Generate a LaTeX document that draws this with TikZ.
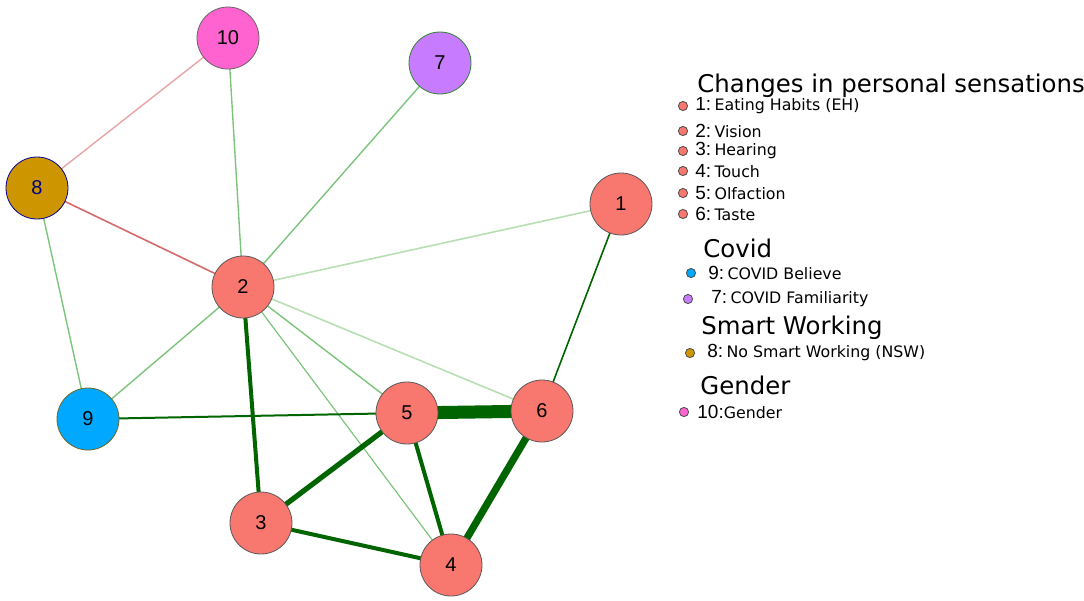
\documentclass[tikz,border=0pt]{standalone}
\usepackage{fontspec}
\setmainfont{Liberation Sans}
\newfontfamily\legfont{DejaVu Sans}
\usetikzlibrary{backgrounds}

\definecolor{sens}{HTML}{F8776E}
\definecolor{gender}{HTML}{FF63CF}
\definecolor{famil}{HTML}{C77CFF}
\definecolor{nsw}{HTML}{CD9600}
\definecolor{believe}{HTML}{00A9FF}
\definecolor{strong}{HTML}{006400}
\definecolor{medium}{HTML}{7CC47C}
\definecolor{faint}{HTML}{B8DEB3}
\definecolor{negative}{HTML}{D46A6A}
\definecolor{negfaint}{HTML}{E8A3A3}
\def\numfont{\fontsize{9.5}{11}\selectfont}
\def\txtfont{\legfont\fontsize{7.9}{10}\selectfont}
\tikzset{var/.style={circle, draw=black!65, fill=sens, minimum size=31pt,
        inner sep=0pt, font=\fontsize{10}{12}\selectfont},
    key/.style={circle, draw=black!70, fill=sens, inner sep=0pt, minimum size=4.6pt},
    head/.style={anchor=west, inner sep=0pt, font=\legfont\fontsize{12.2}{14}\selectfont},
    entry/.style={anchor=west, inner sep=0pt}}

\begin{document}
\begin{tikzpicture}[x=0.5pt, y=-0.5pt]
  \useasboundingbox (0,0) rectangle (1084,601);
  % variables
  \node[var] (n1) at (621,204) {1};
  \node[var] (n2) at (243,287) {2};
  \node[var] (n3) at (261,523) {3};
  \node[var] (n4) at (451,565) {4};
  \node[var] (n5) at (407,413) {5};
  \node[var] (n6) at (542,411) {6};
  \node[var, fill=famil, draw=strong!80] (n7) at (440,63) {7};
  \node[var, fill=nsw, draw=blue!60!black] (n8) at (37,188) {\color{blue!50!black}8};
  \node[var, fill=believe, draw=olive!70!black] (n9) at (88,419) {9};
  \node[var, fill=gender, draw=black!60] (n10) at (228,38) {10};
  % edges
  \begin{scope}[on background layer]
    \draw[negfaint, line width=0.7pt] (n10.center) -- (n8.center);
    \draw[negative, line width=0.8pt] (n8.center) -- (n2.center);
    \draw[medium, line width=0.7pt] (n10.center) -- (n2.center);
    \draw[medium, line width=0.7pt] (n7.center) -- (n2.center);
    \draw[medium, line width=0.7pt] (n8.center) -- (n9.center);
    \draw[medium, line width=0.7pt] (n2.center) -- (n9.center);
    \draw[medium, line width=0.7pt] (n2.center) -- (n5.center);
    \draw[medium, line width=0.6pt] (n2.center) -- (n4.center);
    \draw[faint, line width=0.8pt] (n2.center) -- (n1.center);
    \draw[faint, line width=0.8pt] (n2.center) -- (n6.center);
    \draw[strong, line width=0.8pt] (n1.center) -- (n6.center);
    \draw[strong, line width=1pt] (n9.center) -- (n5.center);
    \draw[strong, line width=2pt] (n2.center) -- (n3.center);
    \draw[strong, line width=2pt] (n3.center) -- (n4.center);
    \draw[strong, line width=2pt] (n5.center) -- (n4.center);
    \draw[strong, line width=2.6pt] (n5.center) -- (n3.center);
    \draw[strong, line width=3.6pt] (n6.center) -- (n4.center);
    \draw[strong, line width=6.5pt] (n5.center) -- (n6.center);
  \end{scope}
  % legend
  \node[head] (hsens) at (697,86) {Changes in personal sensations};
  \foreach \i/\lbl/\y in {1/{Eating Habits (EH)}/106, 2/Vision/131, 3/Hearing/151,
      4/Touch/171, 5/Olfaction/193, 6/Taste/214}
    {\node[key] (k\i) at (683,\y) {};
     \node[entry] (t\i) at (695,\y) {{\numfont\i:}\,{\txtfont\lbl}};}
  \node[head] (hcovid) at (703,248) {Covid};
  \node[key, fill=believe] (k9) at (691,273) {};
  \node[entry] (t9) at (708,273) {{\numfont 9:}\,{\txtfont COVID Believe}};
  \node[key, fill=famil] (k7) at (688,299) {};
  \node[entry] (t7) at (711,299) {{\numfont 7:}\,{\txtfont COVID Familiarity}};
  \node[head] (hsw) at (701,328) {Smart Working};
  \node[key, fill=nsw] (k8) at (690,353) {};
  \node[entry] (t8) at (707,353) {{\numfont 8:}\,{\txtfont No Smart Working (NSW)}};
  \node[head] (hgen) at (700,385) {Gender};
  \node[key, fill=gender] (k10) at (684,412) {};
  \node[entry] (t10) at (697,412) {{\numfont 10:}{\txtfont Gender}};
\end{tikzpicture}
\end{document}
